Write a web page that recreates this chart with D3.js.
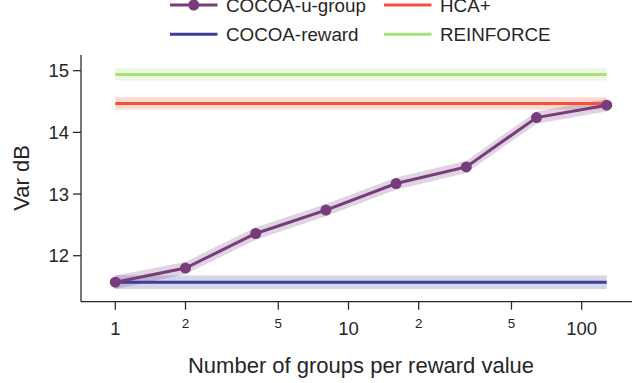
<!DOCTYPE html>
<html>
<head>
<meta charset="utf-8">
<script src="https://cdn.jsdelivr.net/npm/d3@7/dist/d3.min.js"></script>
<style>
  html, body { margin: 0; padding: 0; background: #fff; }
  svg { display: block; font-family: "Liberation Sans", Arial, sans-serif; }
</style>
</head>
<body>
<svg id="chart" width="632" height="383"></svg>
<script>
// Number of groups per reward value (log axis)
const groups = [1, 2, 4, 8, 16, 32, 64, 128];

// COCOA-u-group: mean variance (dB) and half-width of its shaded band
const uGroupMean = [11.57, 11.80, 12.36, 12.74, 13.17, 13.44, 14.24, 14.44];
const uGroupErr  = [0.11, 0.10, 0.10, 0.10, 0.10, 0.10, 0.10, 0.10];

// Baselines that do not depend on the number of groups
const baselineNames = ["COCOA-reward", "HCA+", "REINFORCE"];
const baselineMean  = [11.57, 14.47, 14.94];
const baselineErr   = [0.11, 0.10, 0.10];

// Axis ticks
const yTicks = [12, 13, 14, 15];
const xMajorTicks = [1, 10, 100];
const xMinorTicks = [2, 5, 20, 50];

const colors = {
  "COCOA-u-group": "#773d7a",
  "COCOA-reward": "#3b3f98",
  "HCA+": "#f0553a",
  "REINFORCE": "#a8e07a"
};

const svg = d3.select("#chart");

const x = d3.scaleLog().domain([1, 128]).range([115.3, 606.7]);
const y = d3.scaleLinear().domain([11, 15]).range([70.7 + 4 * 61.67, 70.7]);

const xLeft = 81, xRight = 641, yTop = 55, yBottom = 301.7;

// Baseline bands
baselineNames.forEach((name, i) => {
  const m = baselineMean[i], e = baselineErr[i];
  svg.append("rect")
    .attr("x", x(groups[0]))
    .attr("width", x(groups[groups.length - 1]) - x(groups[0]))
    .attr("y", y(m + e))
    .attr("height", y(m - e) - y(m + e))
    .attr("fill", colors[name])
    .attr("opacity", 0.22);
});

// COCOA-u-group band
const area = d3.area()
  .x((d, i) => x(groups[i]))
  .y0((d, i) => y(uGroupMean[i] - uGroupErr[i]))
  .y1((d, i) => y(uGroupMean[i] + uGroupErr[i]));
svg.append("path")
  .attr("d", area(uGroupMean))
  .attr("fill", colors["COCOA-u-group"])
  .attr("opacity", 0.22);

// Baseline lines
baselineNames.forEach((name, i) => {
  svg.append("line")
    .attr("x1", x(groups[0]))
    .attr("x2", x(groups[groups.length - 1]))
    .attr("y1", y(baselineMean[i]))
    .attr("y2", y(baselineMean[i]))
    .attr("stroke", colors[name])
    .attr("stroke-width", 3);
});

// COCOA-u-group line and markers
const line = d3.line()
  .x((d, i) => x(groups[i]))
  .y(d => y(d));
svg.append("path")
  .attr("d", line(uGroupMean))
  .attr("fill", "none")
  .attr("stroke", colors["COCOA-u-group"])
  .attr("stroke-width", 3);
svg.selectAll("circle.pt")
  .data(uGroupMean)
  .enter().append("circle")
  .attr("class", "pt")
  .attr("cx", (d, i) => x(groups[i]))
  .attr("cy", d => y(d))
  .attr("r", 5.5)
  .attr("fill", colors["COCOA-u-group"]);

// Spines
const axisColor = "#262626";
svg.append("line")
  .attr("x1", xLeft).attr("x2", xLeft)
  .attr("y1", yTop).attr("y2", yBottom)
  .attr("stroke", axisColor).attr("stroke-width", 1.25);
svg.append("line")
  .attr("x1", xLeft).attr("x2", xRight)
  .attr("y1", yBottom).attr("y2", yBottom)
  .attr("stroke", axisColor).attr("stroke-width", 1.25);

// Y axis ticks
const yAxis = svg.append("g");
yTicks.forEach(t => {
  yAxis.append("line")
    .attr("x1", xLeft - 8).attr("x2", xLeft)
    .attr("y1", y(t)).attr("y2", y(t))
    .attr("stroke", axisColor).attr("stroke-width", 1.25);
  yAxis.append("text")
    .attr("x", xLeft - 12)
    .attr("y", y(t))
    .attr("dy", "0.35em")
    .attr("text-anchor", "end")
    .attr("font-size", 18.5)
    .attr("fill", axisColor)
    .text(t);
});

// X axis ticks (major and labelled minor)
const xAxis = svg.append("g");
xMajorTicks.concat(xMinorTicks).forEach(t => {
  xAxis.append("line")
    .attr("x1", x(t)).attr("x2", x(t))
    .attr("y1", yBottom).attr("y2", yBottom + 8)
    .attr("stroke", axisColor).attr("stroke-width", 1.25);
});
xMajorTicks.forEach(t => {
  xAxis.append("text")
    .attr("x", x(t)).attr("y", 335)
    .attr("text-anchor", "middle")
    .attr("font-size", 18.5)
    .attr("fill", axisColor)
    .text(t);
});
xMinorTicks.forEach(t => {
  xAxis.append("text")
    .attr("x", x(t)).attr("y", 327.5)
    .attr("text-anchor", "middle")
    .attr("font-size", 13.5)
    .attr("fill", axisColor)
    .text(String(t).charAt(0));
});

// Axis titles
svg.append("text")
  .attr("x", 361).attr("y", 373)
  .attr("text-anchor", "middle")
  .attr("font-size", 22)
  .attr("fill", axisColor)
  .text("Number of groups per reward value");
svg.append("text")
  .attr("transform", "translate(29,178) rotate(-90)")
  .attr("text-anchor", "middle")
  .attr("font-size", 22)
  .attr("fill", axisColor)
  .text("Var dB");

// Legend (two columns)
const legendItems = [
  { name: "COCOA-u-group", col: 0, row: 0, marker: true },
  { name: "HCA+", col: 1, row: 0, marker: false },
  { name: "COCOA-reward", col: 0, row: 1, marker: false },
  { name: "REINFORCE", col: 1, row: 1, marker: false }
];
const colX = [170, 384];
const rowY = [5, 34.3];
const legend = svg.append("g");
legendItems.forEach(it => {
  const lx = colX[it.col], ly = rowY[it.row];
  legend.append("line")
    .attr("x1", lx).attr("x2", lx + 47.5)
    .attr("y1", ly).attr("y2", ly)
    .attr("stroke", colors[it.name])
    .attr("stroke-width", 3);
  if (it.marker) {
    legend.append("circle")
      .attr("cx", lx + 23.75).attr("cy", ly).attr("r", 5.5)
      .attr("fill", colors[it.name]);
  }
  legend.append("text")
    .attr("x", lx + 56).attr("y", ly)
    .attr("dy", "0.35em")
    .attr("font-size", 18.8)
    .attr("fill", axisColor)
    .text(it.name);
});
</script>
</body>
</html>
